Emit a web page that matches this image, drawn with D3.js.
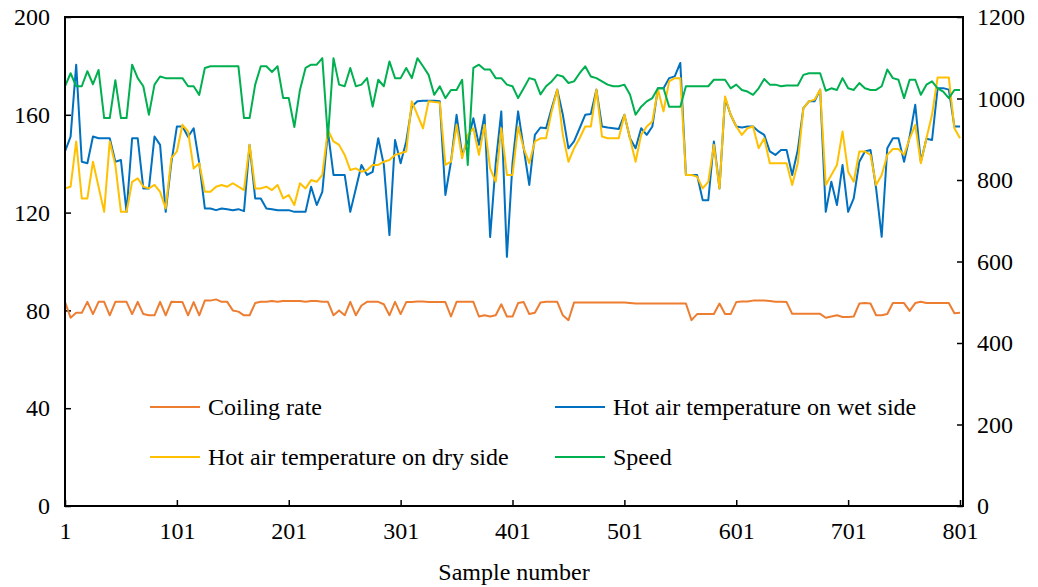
<!DOCTYPE html>
<html>
<head>
<meta charset="utf-8">
<script src="https://cdn.jsdelivr.net/npm/d3@7"></script>
<style>
  body { margin: 0; background: #fff; }
  svg text { font-family: "Liberation Serif", "Times New Roman", serif; fill: #000; }
</style>
</head>
<body>
<svg id="chart" width="1038" height="587"></svg>
<script>
// Readings taken every 5th sample (1, 6, 11, ... 801)
const sampleNumbers = d3.range(1, 802, 5);

const coilingRate = [
  83.5,77,79,79,83.5,78.5,83.5,83.5,78,83.5,83.5,83.5,78.5,83.5,78.5,78,78,83.5,78,83.5,
  83.4,83.4,78,83.4,78,84,84,84.5,83.5,83.5,80,79.5,78,78,83,83.5,83.5,83.8,83.5,83.8,
  83.8,83.8,83.8,83.5,83.8,83.8,83.5,83.5,78,80,78,83.5,78,82,83.5,83.5,83.5,82.5,78,83.5,
  78.5,83.4,83.4,83.6,83.6,83.4,83.4,83.4,83.4,77.5,83.5,83.5,83.5,83.5,77.5,78,77.5,78,82.5,77.5,
  77.5,83,83.4,78.5,79,83.2,83.5,83.5,83.5,78,76,83.2,83.2,83.2,83.2,83.2,83.2,83.2,83.2,83.2,
  83.2,83,82.8,82.8,82.8,82.8,82.8,82.8,82.8,82.8,82.8,82.8,76,78.5,78.5,78.5,78.5,82.8,78.5,78.5,
  83.4,83.6,83.6,84,84,84,83.8,83.5,83.5,83.4,78.6,78.6,78.6,78.6,78.6,78.6,77,77.5,78,77.3,
  77.3,77.5,82.8,83,82.8,78,78,78.5,83,83,83,79.8,83,83.5,83,83,83,83,83,78.8,
  79
];

const wetSideTemp = [
  145,151.1,180.5,140.8,140.2,151.1,150.4,150.4,150.4,140.8,141.5,120.3,150.4,150.4,129.9,129.9,151.1,147.7,120.3,140.2,
  155.2,155.2,151,154.5,140.2,121.7,121.7,121,121.7,121.4,121,121.4,120.6,147.7,125.8,125.8,121.7,121.4,121,121,
  121,120.3,120.3,120.3,130.6,123.1,128.5,153.2,135.4,135.4,135.4,120.3,129.9,139.5,135.4,136.7,150.4,139.5,110.8,149.7,
  140.2,149.1,163.4,165.5,165.7,165.7,165.7,165.5,127.2,140.8,160,143.6,149.1,158.6,147.7,160,110,140.2,161.4,101.9,
  140.2,161.4,146.3,131.3,151.8,154.8,154.5,162.7,170.3,160,146.3,149.1,154.5,160,160.3,170.3,155.2,154.8,154.5,154.2,
  160,150.4,146.3,154.5,151.8,155.2,170.9,170.9,175,175.7,181.2,135.4,135.4,135.4,125.1,125.1,149.1,129.9,166.8,160,
  155.2,154.8,155.2,155.2,153.2,151.8,145,143.6,145.6,145.6,135.4,145.6,162.7,165.5,165.5,170.3,120.3,132.6,123.1,139.5,
  120.3,125.8,140.8,145,145.6,129.9,110.1,146.3,150.4,150.4,140.8,151.1,164.1,140.8,150.2,149.7,170.9,170.9,170.3,155.2,
  155.2
];

const drySideTemp = [
  129.9,130.6,149.1,125.8,125.8,140.8,130.6,120.3,149.1,139.5,120.3,120.3,132.6,134,130.6,129.9,131.3,128.5,121.7,142.2,
  145,155.9,153.2,138,140.2,128.5,128.5,130.6,131.3,130.6,132,130.6,129.2,147.7,129.9,129.9,130.6,129.2,131.3,125.8,
  127.2,123.1,132,129.9,133.3,132.6,135.4,153.8,149.1,147.7,143.6,137.4,138.1,136.7,137.4,139.5,139.5,140.8,141.5,143.6,
  144.3,145,165.5,160,154.5,165.5,165.2,165,139.5,140.8,155.9,142.2,151.8,154.5,143.6,155.9,138.1,132.6,154.5,135.4,
  135.4,155.2,146.3,140.2,149.1,150.4,150.4,161.4,170.3,151.8,140.8,146.3,150.4,155.2,155.2,170.3,151.1,150.4,150.4,150.4,
  160,150.4,140.8,151.8,155.2,157.3,170.3,161.4,173.7,175,175,135.4,135.4,134.7,129.9,132.6,147.7,129.9,167.5,160,
  155.2,151.8,154.5,155.2,146.3,150.4,140.2,140.2,140.2,140.2,131.3,140.2,162.7,165.5,166.2,170.3,131.3,135.4,139.5,153.2,
  136.7,132.6,145,145,143.6,131.3,135.4,143.6,146,146,143.6,150.4,155.9,140.2,150.4,160,175.3,175.3,175.3,154.5,
  150.4
];

const speed = [
  1030,1062,1030,1030,1067,1035,1070,952,952,1045,952,952,1083,1050,1030,960,1034,1054,1050,1050,
  1050,1050,1030,1030,1009,1075,1079,1079,1079,1079,1079,1079,952,952,1034,1079,1079,1065,1079,1001,
  1001,930,1021,1075,1083,1083,1099,903,1099,1034,1030,1075,1030,1034,1050,980,1046,1030,1091,1050,
  1050,1075,1050,1099,1079,1058,1009,1030,1001,1021,1021,1046,837,1075,1083,1071,1071,1050,1050,1034,
  1030,1001,1025,1050,1046,1010,1030,1042,1058,1054,1038,1042,1062,1079,1054,1050,1042,1034,1030,1030,
  1034,1010,960,980,993,1001,1025,1025,980,980,980,1030,1030,1030,1030,1030,1046,1046,1046,1025,
  1034,1021,1017,1009,1025,1048,1034,1034,1030,1032,1032,1032,1058,1062,1062,1062,1019,1025,1021,1050,
  1025,1021,1038,1025,1021,1021,1030,1071,1050,1046,1001,1046,1046,1009,1034,1042,1025,1017,1001,1021,
  1021
];

const leftTicks = [0, 40, 80, 120, 160, 200];
const rightTicks = [0, 200, 400, 600, 800, 1000, 1200];
const xTicks = [1, 101, 201, 301, 401, 501, 601, 701, 801];
const seriesNames = ["Coiling rate", "Hot air temperature on wet side", "Hot air temperature on dry side", "Speed"];
const xTitle = "Sample number";

const colors = ["#ED7D31", "#0070C0", "#FFC000", "#00B050"];

const plot = { left: 65, right: 963, top: 17, bottom: 506 };
const svg = d3.select("#chart");

const x = d3.scaleLinear().domain([1, 801]).range([plot.left, 960]);
const yLeft = d3.scaleLinear().domain([0, 200]).range([plot.bottom, plot.top]);
const yRight = d3.scaleLinear().domain([0, 1200]).range([plot.bottom, plot.top]);

const fontSize = 24;

// Axes with inward ticks
const axisStyle = g => {
  g.select(".domain").remove();
  g.selectAll(".tick line").attr("stroke", "#000").attr("stroke-width", 1.5);
  g.selectAll(".tick text").attr("font-size", fontSize).attr("font-family", "Liberation Serif, Times New Roman, serif").attr("fill", "#000");
};

svg.append("g")
  .attr("transform", `translate(${plot.left},0)`)
  .call(d3.axisLeft(yLeft).tickValues(leftTicks).tickFormat(d3.format("d")).tickSize(-6).tickPadding(15))
  .call(axisStyle);

svg.append("g")
  .attr("transform", `translate(${plot.right},0)`)
  .call(d3.axisRight(yRight).tickValues(rightTicks).tickFormat(d3.format("d")).tickSize(-6).tickPadding(14))
  .call(axisStyle);

svg.append("g")
  .attr("transform", `translate(0,${plot.bottom})`)
  .call(d3.axisBottom(x).tickValues(xTicks).tickFormat(d3.format("d")).tickSize(-6).tickPadding(16))
  .call(axisStyle);

// Series lines
const seriesData = [
  { values: coilingRate, scale: yLeft },
  { values: wetSideTemp, scale: yLeft },
  { values: drySideTemp, scale: yLeft },
  { values: speed, scale: yRight }
];

const lines = svg.append("g");
seriesData.forEach((s, i) => {
  const line = d3.line()
    .x((d, j) => x(sampleNumbers[j]))
    .y(d => s.scale(d));
  lines.append("path")
    .datum(s.values)
    .attr("fill", "none")
    .attr("stroke", colors[i])
    .attr("stroke-width", 2)
    .attr("stroke-linejoin", "round")
    .attr("d", line);
});

// Plot frame
svg.append("rect")
  .attr("x", plot.left).attr("y", plot.top)
  .attr("width", plot.right - plot.left).attr("height", plot.bottom - plot.top)
  .attr("fill", "none").attr("stroke", "#000").attr("stroke-width", 2);

// Legend
const legendPos = [
  { x: 150, y: 407 }, { x: 555, y: 407 },
  { x: 150, y: 457 }, { x: 555, y: 457 }
];
const legend = svg.append("g");
seriesNames.forEach((name, i) => {
  const p = legendPos[i];
  legend.append("line")
    .attr("x1", p.x).attr("x2", p.x + 50)
    .attr("y1", p.y).attr("y2", p.y)
    .attr("stroke", colors[i]).attr("stroke-width", 2);
  legend.append("text")
    .attr("x", p.x + 58).attr("y", p.y + 8)
    .attr("font-size", fontSize)
    .text(name);
});

// Axis title
svg.append("text")
  .attr("x", (plot.left + plot.right) / 2)
  .attr("y", 580)
  .attr("text-anchor", "middle")
  .attr("font-size", fontSize)
  .text(xTitle);
</script>
</body>
</html>
